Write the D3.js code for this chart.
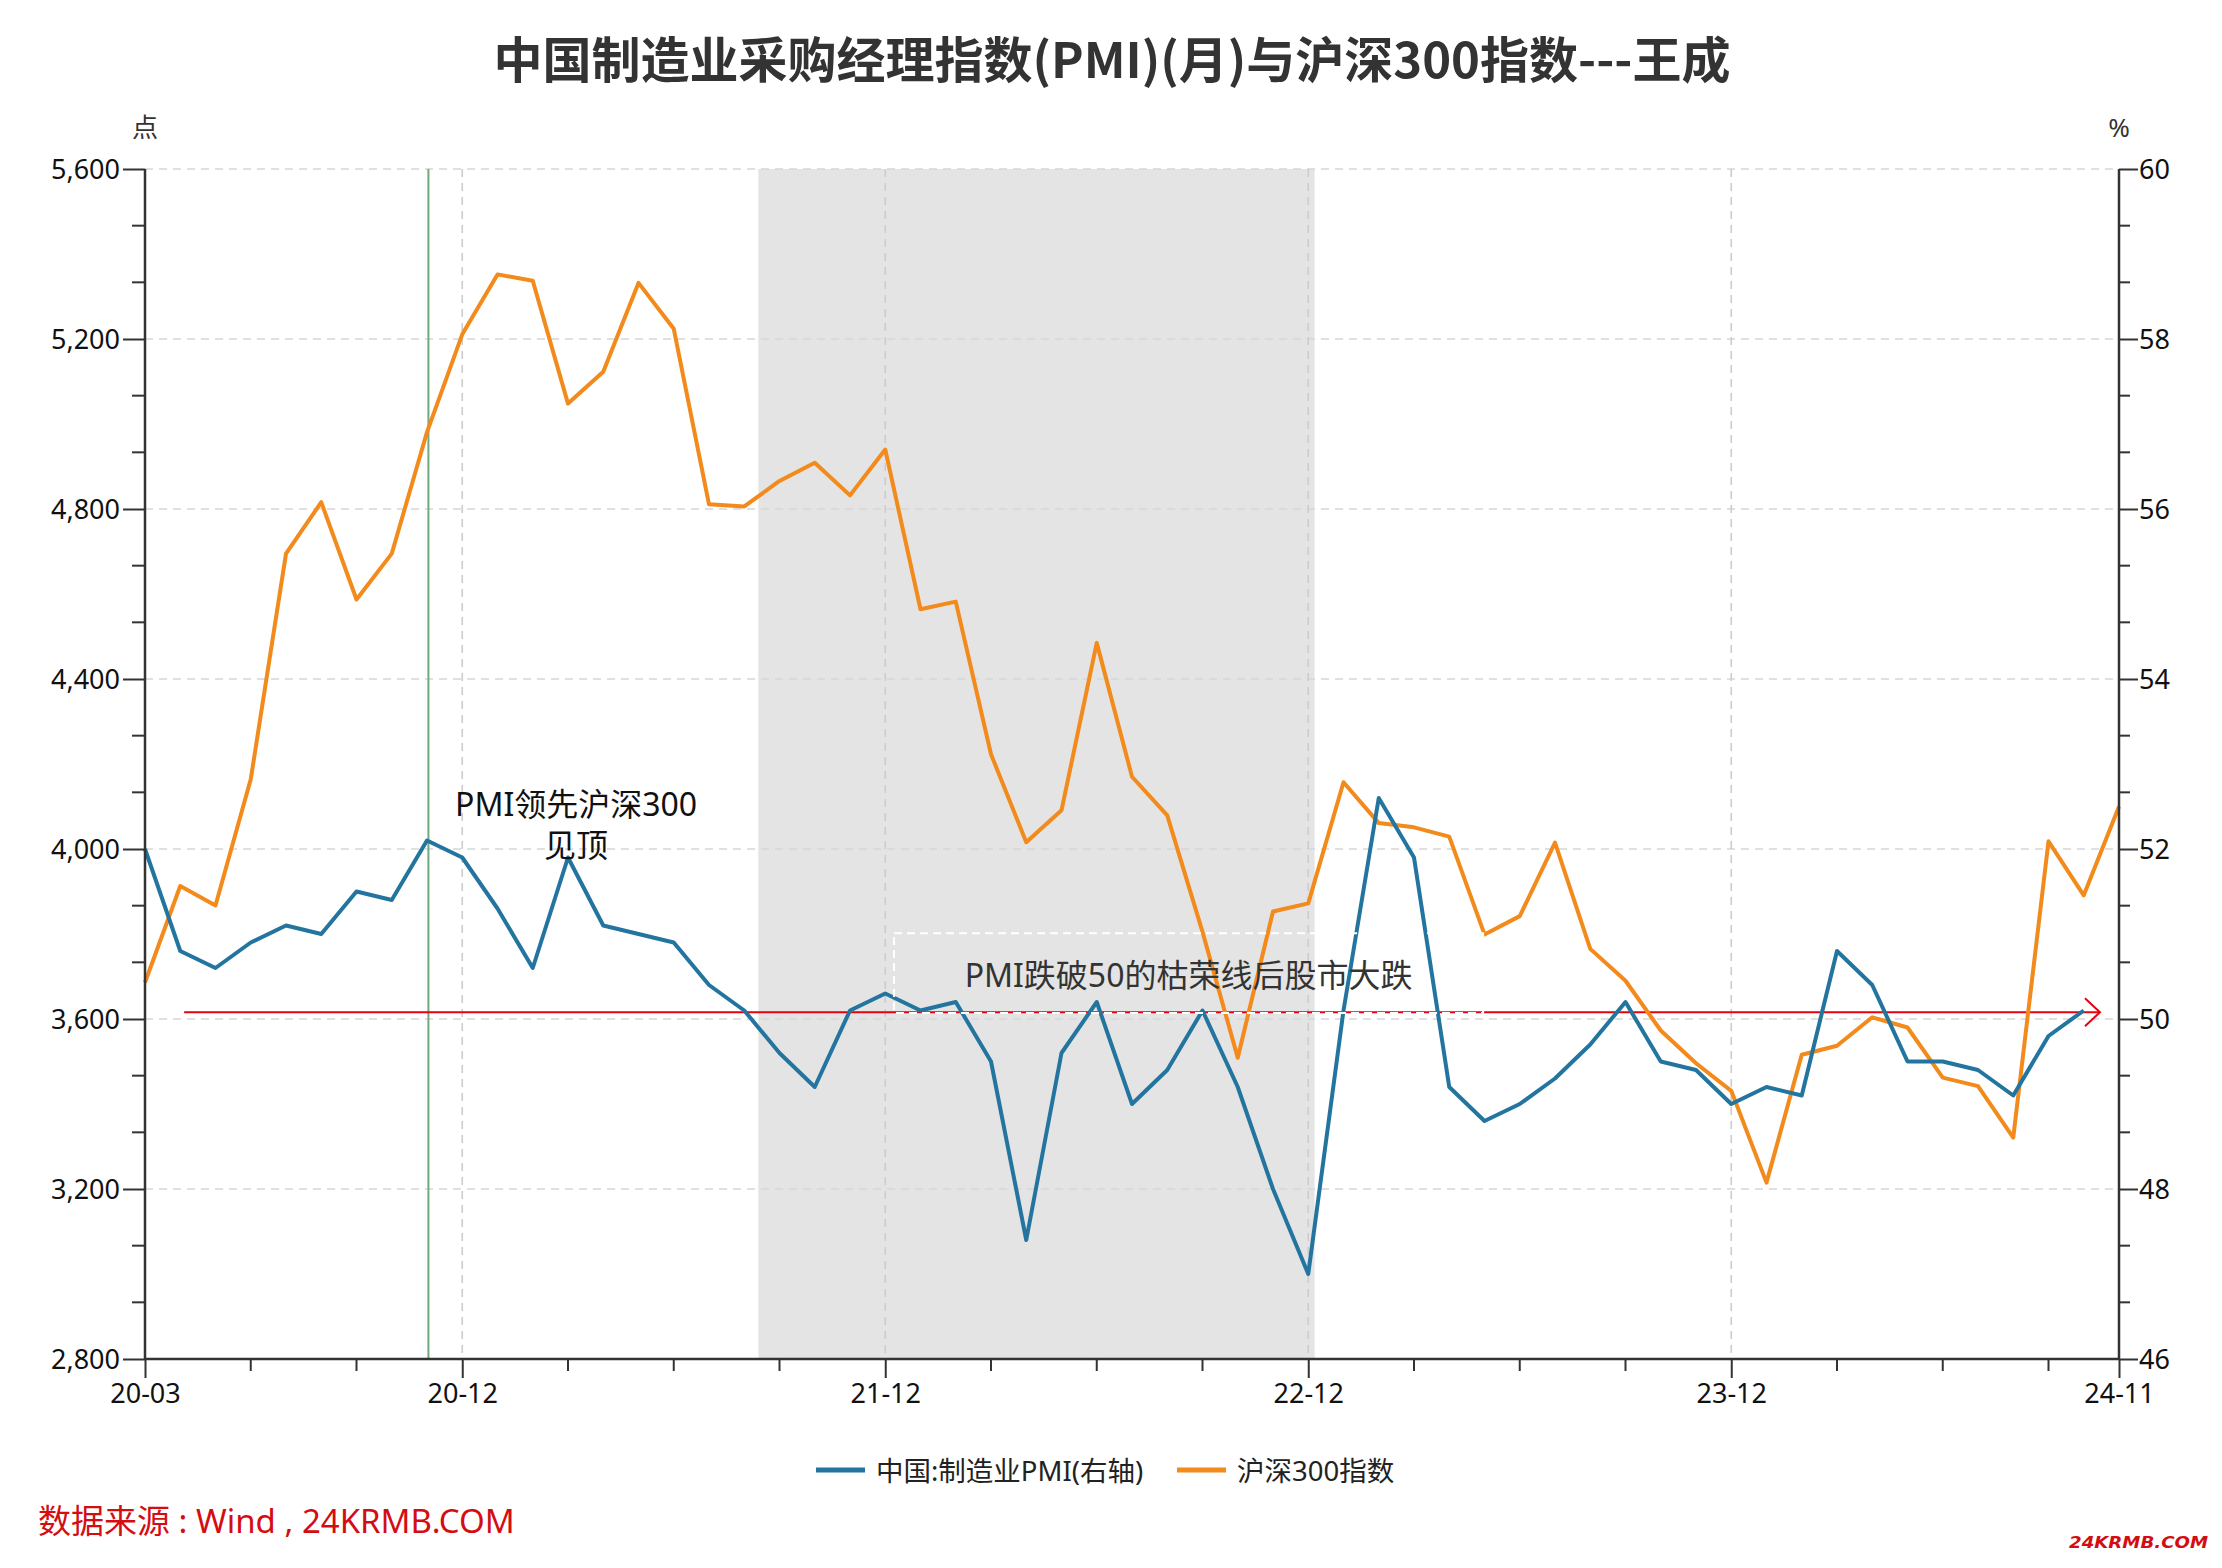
<!DOCTYPE html>
<html>
<head>
<meta charset="utf-8">
<script src="https://cdn.jsdelivr.net/npm/d3@7/dist/d3.min.js"></script>
<style>
  html, body { margin: 0; padding: 0; background: #fff; }
  svg { display: block; font-family: "Noto Sans", "Noto Sans CJK SC", sans-serif; }
</style>
</head>
<body>
<svg id="chart" width="2222" height="1568"></svg>
<script>
// ---------------- DATA ----------------
const months = ["20-03","20-04","20-05","20-06","20-07","20-08","20-09","20-10","20-11","20-12",
  "21-01","21-02","21-03","21-04","21-05","21-06","21-07","21-08","21-09","21-10","21-11","21-12",
  "22-01","22-02","22-03","22-04","22-05","22-06","22-07","22-08","22-09","22-10","22-11","22-12",
  "23-01","23-02","23-03","23-04","23-05","23-06","23-07","23-08","23-09","23-10","23-11","23-12",
  "24-01","24-02","24-03","24-04","24-05","24-06","24-07","24-08","24-09","24-10","24-11"];

// 沪深300指数 (left axis, 点)
const hs300 = [3686, 3913, 3867, 4164, 4695, 4816, 4587, 4695, 4981, 5211,
  5352, 5337, 5048, 5123, 5332, 5224, 4811, 4806, 4866, 4909, 4832, 4940,
  4564, 4582, 4223, 4016, 4091, 4485, 4170, 4079, 3805, 3509, 3853, 3872,
  4157, 4061, 4051, 4029, 3799, 3842, 4015, 3765, 3690, 3573, 3496, 3431,
  3215, 3516, 3537, 3604, 3580, 3462, 3442, 3321, 4018, 3891, 4100];

// 中国:制造业PMI (right axis, %)
const pmi = [52.0, 50.8, 50.6, 50.9, 51.1, 51.0, 51.5, 51.4, 52.1, 51.9,
  51.3, 50.6, 51.9, 51.1, 51.0, 50.9, 50.4, 50.1, 49.6, 49.2, 50.1, 50.3,
  50.1, 50.2, 49.5, 47.4, 49.6, 50.2, 49.0, 49.4, 50.1, 49.2, 48.0, 47.0,
  50.1, 52.6, 51.9, 49.2, 48.8, 49.0, 49.3, 49.7, 50.2, 49.5, 49.4, 49.0,
  49.2, 49.1, 50.8, 50.4, 49.5, 49.5, 49.4, 49.1, 49.8, 50.1, null];

const xLabelMonths = ["20-03","20-12","21-12","22-12","23-12","24-11"];
const xMinorMonths = ["20-06","20-09","21-03","21-06","21-09","22-03","22-06","22-09",
  "23-03","23-06","23-09","24-03","24-06","24-09"];
const leftTicks = [2800, 3200, 3600, 4000, 4400, 4800, 5200, 5600];
const rightTicks = [46, 48, 50, 52, 54, 56, 58, 60];

const seriesNames = ["中国:制造业PMI(右轴)", "沪深300指数"];
const titleText = "中国制造业采购经理指数(PMI)(月)与沪深300指数---王成";
const sourceText = "数据来源 : Wind , 24KRMB.COM";
const watermarkText = "24KRMB.COM";

// shaded period (month index, fractional) and markers
const shadeRange = [17.4, 33.18];
const greenLineAt = 8.04;
const redArrow = { from: 1.11, to: 55.46, value: 50.08 };
const note1 = { lines: ["PMI领先沪深300", "见顶"], at: 12.23, value: 52.54 };
const note2 = { text: "PMI跌破50的枯荣线后股市大跌", box: [21.25, 37.96, 51.01, 50.07] };

// ---------------- LAYOUT ----------------
const W = 2222, H = 1568;
const M = { left: 145, right: 2119, top: 169, bottom: 1359 };
const BLUE = "#23759f", ORANGE = "#f28a1c";

const svg = d3.select("#chart");
svg.append("rect").attr("width", W).attr("height", H).attr("fill", "#fff");

const x = d3.scaleLinear().domain([0, months.length - 1]).range([M.left, M.right]);
const yL = d3.scaleLinear().domain([2800, 5600]).range([M.bottom, M.top]);
const yR = d3.scaleLinear().domain([46, 60]).range([M.bottom, M.top]);
const idx = m => months.indexOf(m);

// shaded region
svg.append("rect")
  .attr("x", x(shadeRange[0])).attr("y", M.top)
  .attr("width", x(shadeRange[1]) - x(shadeRange[0]))
  .attr("height", M.bottom - M.top)
  .attr("fill", "#e4e4e4");

// horizontal grid
svg.append("g").selectAll("line").data(leftTicks.filter(d => d > 2800)).join("line")
  .attr("x1", M.left).attr("x2", M.right)
  .attr("y1", d => yL(d)).attr("y2", d => yL(d))
  .attr("stroke", "#d6d6d6").attr("stroke-width", 1.6).attr("stroke-dasharray", "8,6");

// vertical grid
svg.append("g").selectAll("line").data(xLabelMonths.slice(1, -1)).join("line")
  .attr("x1", d => x(idx(d))).attr("x2", d => x(idx(d)))
  .attr("y1", M.top).attr("y2", M.bottom)
  .attr("stroke", "#cccccc").attr("stroke-width", 1.6).attr("stroke-dasharray", "8,6");

// green vertical line
svg.append("line")
  .attr("x1", x(greenLineAt)).attr("x2", x(greenLineAt))
  .attr("y1", M.top).attr("y2", M.bottom)
  .attr("stroke", "#6fa97d").attr("stroke-width", 2);

// red arrow line
svg.append("line")
  .attr("x1", x(redArrow.from)).attr("x2", x(redArrow.to))
  .attr("y1", yR(redArrow.value)).attr("y2", yR(redArrow.value))
  .attr("stroke", "#e60012").attr("stroke-width", 2);
{
  const ax = x(redArrow.to), ay = yR(redArrow.value);
  svg.append("path")
    .attr("d", `M${ax - 15},${ay - 14} L${ax},${ay} L${ax - 15},${ay + 14}`)
    .attr("fill", "none").attr("stroke", "#e60012").attr("stroke-width", 2);
}

// lines
const lineL = d3.line().defined(d => d != null).x((d, i) => x(i)).y(d => yL(d));
const lineR = d3.line().defined(d => d != null).x((d, i) => x(i)).y(d => yR(d));

svg.append("path").datum(hs300).attr("d", lineL)
  .attr("fill", "none").attr("stroke", ORANGE).attr("stroke-width", 4)
  .attr("stroke-linejoin", "round");
svg.append("path").datum(pmi).attr("d", lineR)
  .attr("fill", "none").attr("stroke", BLUE).attr("stroke-width", 4)
  .attr("stroke-linejoin", "round");

// annotation box 2 (white dashed)
{
  const [a, b, v1, v2] = note2.box;
  svg.append("rect")
    .attr("x", x(a)).attr("y", yR(v1))
    .attr("width", x(b) - x(a)).attr("height", yR(v2) - yR(v1))
    .attr("fill", "none").attr("stroke", "#fff").attr("stroke-width", 2)
    .attr("stroke-dasharray", "8,5");
  svg.append("text")
    .attr("x", (x(a) + x(b)) / 2).attr("y", (yR(v1) + yR(v2)) / 2 + 1)
    .attr("text-anchor", "middle").attr("dominant-baseline", "central")
    .attr("font-size", 32).attr("fill", "#333")
    .text(note2.text);
}

// annotation 1
svg.append("g").selectAll("text").data(note1.lines).join("text")
  .attr("x", x(note1.at))
  .attr("y", (d, i) => yR(note1.value) + i * 41)
  .attr("text-anchor", "middle").attr("dominant-baseline", "central")
  .attr("font-size", 32).attr("fill", "#111")
  .text(d => d);

// ---------------- AXES ----------------
const axisColor = "#333";
// left axis
const gL = svg.append("g").attr("transform", `translate(${M.left},0)`);
gL.call(d3.axisLeft(yL).tickValues(leftTicks).tickSize(22).tickPadding(3).tickFormat(d3.format(",")));
// left minor
const leftMinor = [];
leftTicks.slice(0, -1).forEach(t => { leftMinor.push(t + 400 / 3, t + 800 / 3); });
gL.append("g").selectAll("line").data(leftMinor).join("line")
  .attr("x1", -13).attr("x2", 0).attr("y1", d => yL(d)).attr("y2", d => yL(d));

// right axis
const gR = svg.append("g").attr("transform", `translate(${M.right},0)`);
gR.call(d3.axisRight(yR).tickValues(rightTicks).tickSize(19).tickPadding(1));
const rightMinor = [];
rightTicks.slice(0, -1).forEach(t => { rightMinor.push(t + 2 / 3, t + 4 / 3); });
gR.append("g").selectAll("line").data(rightMinor).join("line")
  .attr("x1", 0).attr("x2", 11).attr("y1", d => yR(d)).attr("y2", d => yR(d));

// bottom axis
const gB = svg.append("g").attr("transform", `translate(0,${M.bottom})`);
gB.call(d3.axisBottom(x).tickValues(xLabelMonths.map(idx)).tickSize(19).tickPadding(6)
  .tickFormat(i => months[i]));
gB.append("g").selectAll("line").data(xMinorMonths.map(idx)).join("line")
  .attr("x1", d => x(d)).attr("x2", d => x(d)).attr("y1", 0).attr("y2", 12);

[gL, gR, gB].forEach(g => {
  g.select(".domain").attr("stroke", axisColor).attr("stroke-width", 2.5);
  g.selectAll("line").attr("stroke", axisColor).attr("stroke-width", 2);
  g.selectAll("text").attr("font-size", 27).attr("fill", "#111")
    .attr("font-family", "\"Noto Sans\", \"Noto Sans CJK SC\", sans-serif");
});
gB.select(".domain").attr("d", `M${M.left},0H${M.right}`);
gL.select(".domain").attr("d", `M0,${M.top}V${M.bottom}`);
gR.select(".domain").attr("d", `M0,${M.top}V${M.bottom}`);
gL.selectAll(".tick text").attr("dy", "0.35em");
gR.selectAll(".tick text").attr("dy", "0.35em");

// axis units
svg.append("text").attr("x", M.left).attr("y", 127)
  .attr("text-anchor", "middle").attr("dominant-baseline", "central")
  .attr("font-size", 26).attr("fill", "#333").text("点");
svg.append("text").attr("x", M.right).attr("y", 127)
  .attr("text-anchor", "middle").attr("dominant-baseline", "central")
  .attr("font-size", 26).attr("fill", "#333").text("%");

// ---------------- TITLE ----------------
svg.append("text").attr("x", 1112).attr("y", 56)
  .attr("text-anchor", "middle").attr("dominant-baseline", "central")
  .attr("font-size", 49).attr("font-weight", "bold").attr("fill", "#333")
  .attr("font-family", "\"Noto Sans CJK SC\", sans-serif")
  .text(titleText);

// ---------------- LEGEND ----------------
const legend = svg.append("g").attr("transform", "translate(816,1470)");
const legendItems = [
  { name: seriesNames[0], color: BLUE, dx: 0 },
  { name: seriesNames[1], color: ORANGE, dx: 361 }
];
legendItems.forEach(it => {
  const g = legend.append("g").attr("transform", `translate(${it.dx},0)`);
  g.append("rect").attr("x", 0).attr("y", -2.5).attr("width", 49).attr("height", 5).attr("fill", it.color);
  g.append("text").attr("x", 60).attr("y", 0).attr("dominant-baseline", "central")
    .attr("font-size", 27.5).attr("fill", "#222").text(it.name);
});

// ---------------- SOURCE / WATERMARK ----------------
svg.append("text").attr("x", 38).attr("y", 1520).attr("dominant-baseline", "central")
  .attr("font-size", 33).attr("fill", "#d40d12").text(sourceText);

svg.append("text").attr("x", 2069).attr("y", 1543).attr("dominant-baseline", "central")
  .attr("font-size", 15).attr("font-weight", "bold").attr("font-style", "italic")
  .attr("fill", "#d40d12").attr("textLength", 139).attr("lengthAdjust", "spacingAndGlyphs")
  .attr("font-family", "\"DejaVu Sans\", sans-serif")
  .text(watermarkText);
</script>
</body>
</html>
